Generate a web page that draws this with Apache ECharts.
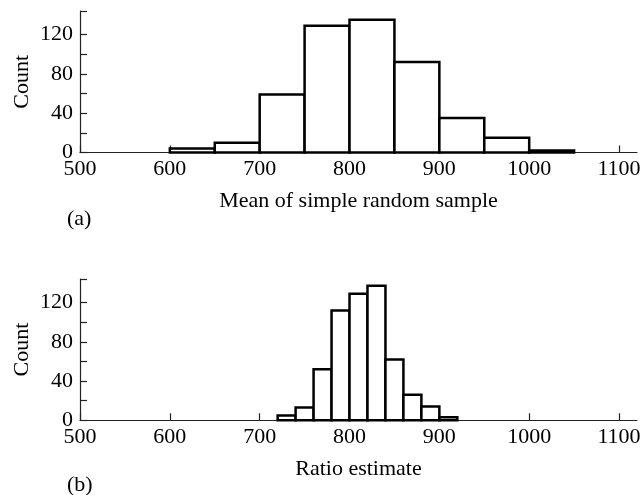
<!DOCTYPE html>
<html>
<head>
<meta charset="utf-8">
<script src="https://cdn.jsdelivr.net/npm/echarts@6/dist/echarts.min.js"></script>
<style>
html, body { margin: 0; padding: 0; background: #fff; }
#chart { width: 644px; height: 495px; }
</style>
</head>
<body>
<div id="chart"></div>
<script>
// panel (a): mean of simple random sample, bins of 50
var binsA = [600, 650, 700, 750, 800, 850, 900, 950, 1000];
var countsA = [4, 10, 59, 129, 135, 92, 35, 15, 2];
var widthA = 50;
// panel (b): ratio estimate, bins of 20
var binsB = [720, 740, 760, 780, 800, 820, 840, 860, 880, 900];
var countsB = [5, 13, 52, 112, 129, 137, 62, 26, 14, 3];
var widthB = 20;

var xTicks = [500, 600, 700, 800, 900, 1000, 1100];
var yTicks = [0, 20, 40, 60, 80, 100, 120, 144];
var yLabels = [0, 40, 80, 120];

var FONT = 'Liberation Serif';
var FS = 22;

function histData(bins, counts, w) {
	var out = [];
	for (var i = 0; i < bins.length; i++) {
		out.push([bins[i], bins[i] + w, counts[i]]);
	}
	return out;
}

function renderBar(params, api) {
	var p0 = api.coord([api.value(0), api.value(2)]);
	var p1 = api.coord([api.value(1), 0]);
	return {
		type: 'rect',
		shape: { x: p0[0], y: p0[1], width: p1[0] - p0[0], height: p1[1] - p0[1] },
		style: { fill: '#fff', stroke: '#000', lineWidth: 2.5 }
	};
}

function plain(v) { return String(v); }

function xAxisOpt(idx, name) {
	return {
		type: 'value',
		gridIndex: idx,
		min: 500,
		max: 1120,
		splitLine: { show: false },
		axisLine: { lineStyle: { color: '#222', width: 1.2 } },
		axisTick: { inside: true, length: 7, customValues: xTicks, lineStyle: { color: '#222', width: 1.2 } },
		axisLabel: { customValues: xTicks, formatter: plain, margin: 6, color: '#000', fontFamily: FONT, fontSize: FS },
		name: name,
		nameLocation: 'middle',
		nameGap: 38,
		nameTextStyle: { color: '#000', fontFamily: FONT, fontSize: FS }
	};
}

function yAxisOpt(idx) {
	return {
		type: 'value',
		gridIndex: idx,
		min: 0,
		max: 144,
		splitLine: { show: false },
		axisLine: { show: true, lineStyle: { color: '#222', width: 1.2 } },
		axisTick: { show: true, inside: true, length: 7, customValues: yTicks, lineStyle: { color: '#222', width: 1.2 } },
		axisLabel: { customValues: yLabels, formatter: plain, margin: 7, color: '#000', fontFamily: FONT, fontSize: FS },
		name: 'Count',
		nameLocation: 'middle',
		nameGap: 47,
		nameMoveOverlap: false,
		nameTextStyle: { color: '#000', fontFamily: FONT, fontSize: FS }
	};
}

var myChart = echarts.init(document.getElementById('chart'));
var option = {
	backgroundColor: '#fff',
	animation: false,
	grid: [
		{ left: 80, top: 11, width: 557, height: 141.5 },
		{ left: 80, top: 279, width: 557, height: 141.3 }
	],
	xAxis: [
		xAxisOpt(0, 'Mean of simple random sample'),
		xAxisOpt(1, 'Ratio estimate')
	],
	yAxis: [yAxisOpt(0), yAxisOpt(1)],
	graphic: [
		{ type: 'text', x: 67, y: 208, style: { text: '(a)', font: FS + 'px "Liberation Serif"', fill: '#000', verticalAlign: 'top' } },
		{ type: 'text', x: 67, y: 474, style: { text: '(b)', font: FS + 'px "Liberation Serif"', fill: '#000', verticalAlign: 'top' } }
	],
	series: [
		{
			type: 'custom',
			xAxisIndex: 0,
			yAxisIndex: 0,
			renderItem: renderBar,
			encode: { x: [0, 1], y: 2 },
			data: histData(binsA, countsA, widthA)
		},
		{
			type: 'custom',
			xAxisIndex: 1,
			yAxisIndex: 1,
			renderItem: renderBar,
			encode: { x: [0, 1], y: 2 },
			data: histData(binsB, countsB, widthB)
		}
	]
};
myChart.setOption(option);
</script>
</body>
</html>
